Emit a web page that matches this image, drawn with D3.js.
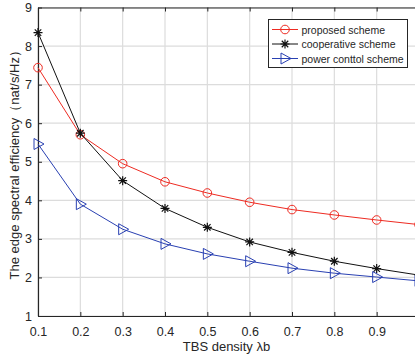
<!DOCTYPE html>
<html>
<head>
<meta charset="utf-8">
<script src="https://cdn.jsdelivr.net/npm/d3@7"></script>
<style>
  body { margin: 0; background: #fff; }
  svg { display: block; font-family: "Liberation Sans", Arial, sans-serif; }
</style>
</head>
<body>
<svg id="chart" width="415" height="360"></svg>
<script>
// data
const density = [0.1, 0.2, 0.3, 0.4, 0.5, 0.6, 0.7, 0.8, 0.9, 1.0];
const proposed = [7.44, 5.70, 4.95, 4.48, 4.19, 3.95, 3.76, 3.62, 3.49, 3.37];
const cooperative = [8.35, 5.74, 4.51, 3.79, 3.30, 2.92, 2.65, 2.42, 2.23, 2.06];
const powerControl = [5.46, 3.90, 3.25, 2.87, 2.61, 2.42, 2.24, 2.11, 2.01, 1.91];
const xTicks = [0.1, 0.2, 0.3, 0.4, 0.5, 0.6, 0.7, 0.8, 0.9, 1.0];
const yTicks = [1, 2, 3, 4, 5, 6, 7, 8, 9];
const seriesNames = ['proposed scheme', 'cooperative scheme', 'power conttol scheme'];

const svg = d3.select('#chart');
const plotLeft = 38, plotRight = 419, plotTop = 7.5, plotBottom = 316;
const axisColor = '#262626';

const x = d3.scaleLinear().domain([0.1, 1.0]).range([plotLeft, plotRight]);
const y = d3.scaleLinear().domain([1, 9]).range([plotBottom, plotTop]);

// grid
svg.append('g').selectAll('line').data(xTicks).enter().append('line')
  .attr('x1', d => x(d)).attr('x2', d => x(d))
  .attr('y1', plotTop).attr('y2', plotBottom)
  .attr('stroke', '#dcdcdc').attr('stroke-width', 1.2);
svg.append('g').selectAll('line').data(yTicks).enter().append('line')
  .attr('x1', plotLeft).attr('x2', plotRight)
  .attr('y1', d => y(d)).attr('y2', d => y(d))
  .attr('stroke', '#dcdcdc').attr('stroke-width', 1.2);

// axes (ticks inward like matlab)
const xAxis = svg.append('g').attr('transform', `translate(0,${plotBottom})`)
  .call(d3.axisBottom(x).tickValues(xTicks).tickSizeInner(-4).tickSizeOuter(0)
    .tickFormat(d => d >= 1 ? '' : d3.format('.1f')(d)));
const xTop = svg.append('g').attr('transform', `translate(0,${plotTop})`)
  .call(d3.axisTop(x).tickValues(xTicks).tickSizeInner(-4).tickSizeOuter(0).tickFormat(''));
const yAxis = svg.append('g').attr('transform', `translate(${plotLeft},0)`)
  .call(d3.axisLeft(y).tickValues(yTicks).tickSizeInner(-4).tickSizeOuter(0).tickFormat(d3.format('d')));

[xAxis, xTop, yAxis].forEach(g => {
  g.select('.domain').attr('stroke', axisColor).attr('stroke-width', 1.2);
  g.selectAll('.tick line').attr('stroke', axisColor).attr('stroke-width', 1);
  g.selectAll('.tick text').attr('fill', axisColor).style('font-size', '12.5px')
    .style('font-family', '"Liberation Sans", Arial, sans-serif');
});
xAxis.selectAll('.tick text').attr('dy', '1.05em').attr('y', 7);
yAxis.selectAll('.tick text').attr('x', -6);

// series
const series = [
  { name: seriesNames[0], values: proposed, color: '#ee2b22', marker: 'circle' },
  { name: seriesNames[1], values: cooperative, color: '#111111', marker: 'star' },
  { name: seriesNames[2], values: powerControl, color: '#2940b2', marker: 'triangle' }
];

function drawMarker(g, type, cx, cy, color) {
  if (type === 'circle') {
    g.append('circle').attr('cx', cx).attr('cy', cy).attr('r', 4.3)
      .attr('fill', 'none').attr('stroke', color).attr('stroke-width', 1);
  } else if (type === 'star') {
    const r = 4.5, d = r * 0.72;
    g.append('path')
      .attr('d', `M${cx - r},${cy}H${cx + r}M${cx},${cy - r}V${cy + r}` +
        `M${cx - d},${cy - d}L${cx + d},${cy + d}M${cx - d},${cy + d}L${cx + d},${cy - d}`)
      .attr('stroke', color).attr('stroke-width', 1.2).attr('fill', 'none');
  } else {
    g.append('path')
      .attr('d', `M${cx - 4},${cy - 5.5}L${cx + 6},${cy}L${cx - 4},${cy + 5.5}Z`)
      .attr('fill', 'none').attr('stroke', color).attr('stroke-width', 1);
  }
}

const line = d3.line().x((d, i) => x(density[i])).y(d => y(d));

series.forEach(s => {
  svg.append('path').datum(s.values)
    .attr('d', line).attr('fill', 'none')
    .attr('stroke', s.color).attr('stroke-width', 1);
  const mg = svg.append('g');
  s.values.forEach((v, i) => drawMarker(mg, s.marker, x(density[i]), y(v), s.color));
});

// legend
const legend = svg.append('g');
legend.append('rect').attr('x', 268.5).attr('y', 19.5).attr('width', 139).attr('height', 48)
  .attr('fill', '#fff').attr('stroke', axisColor).attr('stroke-width', 1);
series.forEach((s, i) => {
  const ly = 29.5 + i * 14.5;
  legend.append('line').attr('x1', 272).attr('x2', 298).attr('y1', ly).attr('y2', ly)
    .attr('stroke', s.color).attr('stroke-width', 1);
  drawMarker(legend, s.marker, 285, ly, s.color);
  legend.append('text').attr('x', 301.5).attr('y', ly + 4)
    .attr('fill', axisColor).style('font-size', '10.5px').text(s.name);
});

// axis titles
svg.append('text').attr('x', (plotLeft + plotRight) / 2 - 2).attr('y', 351)
  .attr('text-anchor', 'middle').attr('fill', axisColor).style('font-size', '13px')
  .text('TBS density λb');
svg.append('text')
  .attr('transform', `translate(19,${(plotTop + plotBottom) / 2}) rotate(-90)`)
  .attr('text-anchor', 'middle').attr('fill', axisColor).style('font-size', '13px')
  .text('The edge spectral efficiency（nat/s/Hz）');
</script>
</body>
</html>
